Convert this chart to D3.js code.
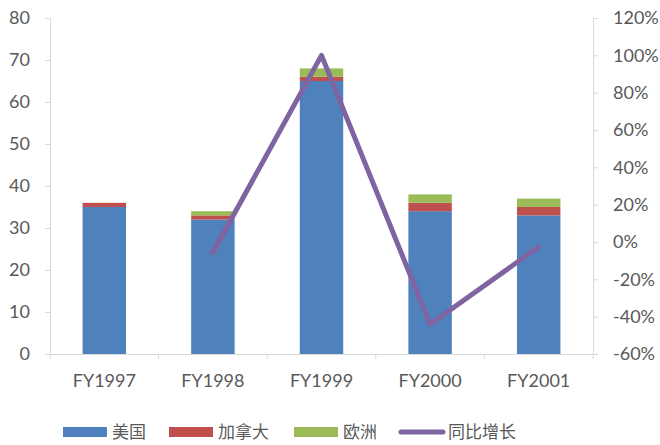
<!DOCTYPE html>
<html><head><meta charset="utf-8">
<script src="https://cdn.jsdelivr.net/npm/d3@7/dist/d3.min.js"></script>
<style>body{margin:0;background:#fff}svg{display:block}</style>
</head><body><svg id="c" width="660" height="445"></svg>
<script>
const categories = ["FY1997","FY1998","FY1999","FY2000","FY2001"];
const usa = [35,32,65,34,33];
const canada = [1,1,1,2,2];
const europe = [0,1,2,2,2];
const growth = [null,-0.056,1.0,-0.441,-0.026];
const leftTicks = [0,10,20,30,40,50,60,70,80];
const rightTicks = [-0.6,-0.4,-0.2,0,0.2,0.4,0.6,0.8,1.0,1.2];
const seriesNames = ["美国","加拿大","欧洲","同比增长"];
const colors = ["#4F81BD","#C0504D","#9BBB59","#8064A2"];

const svg = d3.select("#c");
const L = 50, R = 593, T = 18, B = 354;
const font = "Lato, sans-serif";
const x = d3.scaleBand().domain(categories).range([L,R]).paddingInner(0.6).paddingOuter(0.3);
const xb = d3.scaleBand().domain(categories).range([L,R]);
const y = d3.scaleLinear().domain([0,80]).range([B,T]);
const y2 = d3.scaleLinear().domain([-0.6,1.2]).range([B,T]);

const axisColor = "#d9d9d9", textColor = "#595959";

// stacked bars
const rows = categories.map((c,i)=>({cat:c, usa:usa[i], canada:canada[i], europe:europe[i]}));
const stack = d3.stack().keys(["usa","canada","europe"])(rows);
svg.append("g").selectAll("g").data(stack).join("g")
  .attr("fill",(d,i)=>colors[i])
  .selectAll("rect").data(d=>d).join("rect")
  .attr("x",d=>x(d.data.cat)).attr("width",x.bandwidth())
  .attr("y",d=>y(d[1])).attr("height",d=>y(d[0])-y(d[1]));

// axes
const pct = d => Math.round(d*100) + "%";
const gl = svg.append("g").attr("transform",`translate(${L},0)`)
  .call(d3.axisLeft(y).tickValues(leftTicks).tickSize(5).tickPadding(15));
const gr = svg.append("g").attr("transform",`translate(${R},0)`)
  .call(d3.axisRight(y2).tickValues(rightTicks).tickSize(5).tickPadding(15).tickFormat(pct));
const gx = svg.append("g").attr("transform",`translate(0,${B})`)
  .call(d3.axisBottom(xb).tickSize(0).tickPadding(20));
gx.selectAll(".xt").data(d3.range(categories.length+1)).join("line")
  .attr("x1",i=>L+i*xb.step()).attr("x2",i=>L+i*xb.step()).attr("y1",0).attr("y2",5)
  .attr("stroke",axisColor);
[gl,gr,gx].forEach(g=>{
  g.selectAll("path,line").attr("stroke",axisColor).attr("stroke-width",1);
  g.selectAll("text").attr("fill",textColor).style("font-family",font).style("font-size","18px");
});

// line
const pts = categories.map((c,i)=>({cat:c,v:growth[i]})).filter(d=>d.v!==null);
svg.append("path").datum(pts)
  .attr("fill","none").attr("stroke",colors[3]).attr("stroke-width",5).attr("stroke-linecap","round").attr("stroke-linejoin","round")
  .attr("d",d3.line().x(d=>xb(d.cat)+xb.bandwidth()/2).y(d=>y2(d.v)));

// legend
const lg = svg.append("g").attr("transform","translate(0,432)");
const legX = [63,169,294,399];
seriesNames.forEach((n,i)=>{
  const g = lg.append("g").attr("transform",`translate(${legX[i]},0)`);
  if(i<3) g.append("rect").attr("x",0).attr("y",-5).attr("width",44).attr("height",10).attr("fill",colors[i]);
  else g.append("line").attr("x1",2).attr("x2",44).attr("y1",0).attr("y2",0).attr("stroke",colors[i]).attr("stroke-width",5).attr("stroke-linecap","round");
  g.append("text").attr("x",49).attr("y",0).attr("dy","0.35em").attr("fill",textColor)
    .style("font-family","'Noto Sans CJK SC', sans-serif").style("font-size","17px").text(n);
});
</script></body></html>
